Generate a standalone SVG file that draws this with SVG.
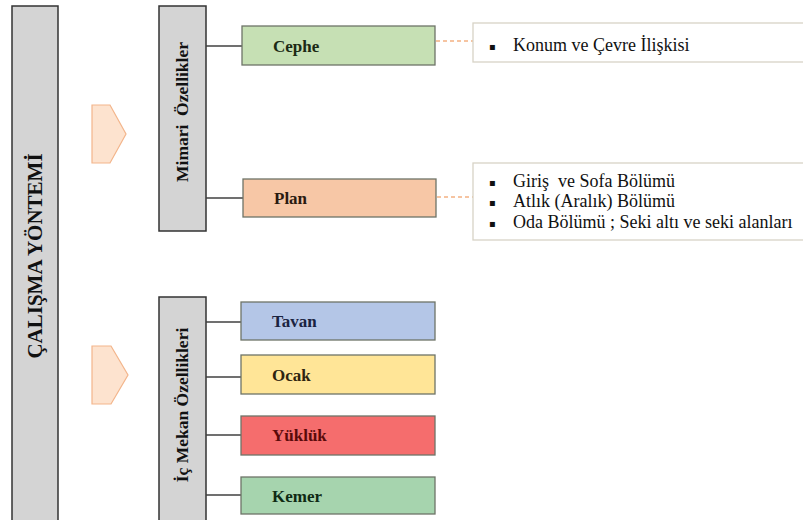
<svg xmlns="http://www.w3.org/2000/svg" width="803" height="520" viewBox="0 0 803 520" font-family="'Liberation Serif', 'DejaVu Serif', serif">
<style>
.gray{fill:#d4d4d4;stroke:#333;stroke-width:1.5}
.vt{font-weight:bold;fill:#111;text-anchor:middle}
.chev{fill:#fde3cf;stroke:#f3b58b;stroke-width:1.2}
.box{stroke:#6e7468;stroke-width:1.3}
.lbl{font-weight:bold;font-size:17px}
.note{fill:#fff;stroke:#d8d3c6;stroke-width:1.3}
.nt{font-size:18px;fill:#111}
.bl{font-size:10px;fill:#111}
.ln{stroke:#404040;stroke-width:1.5;fill:none}
.dash{stroke:#f4b183;stroke-width:1.3;stroke-dasharray:4 3;fill:none}
</style>
<rect width="803" height="520" fill="#fff"/>
<g id="calisma">
<rect class="gray" x="12" y="6" width="46" height="525"/>
<text class="vt" font-family="Liberation Serif, serif" font-size="21" transform="translate(42,256) rotate(-90)">ÇALIŞMA YÖNTEMİ</text>
</g>
<g id="chevron1"><polygon class="chev" points="92,105 110,105 126,134 110,163 92,163"/></g>
<g id="chevron2"><polygon class="chev" points="92,346 111,346 128,375 111,404 92,404"/></g>
<g id="mimari">
<rect class="gray" x="159" y="6" width="47" height="225"/>
<text class="vt" font-family="Liberation Serif, serif" font-size="17.5" transform="translate(188,112) rotate(-90)" xml:space="preserve">Mimari  Özellikler</text>
</g>
<g id="icmekan">
<rect class="gray" x="159" y="297" width="47" height="240"/>
<text class="vt" font-family="Liberation Serif, serif" font-size="17.5" transform="translate(188,405) rotate(-90)">İç Mekan Özellikleri</text>
</g>
<g id="connectors">
<line class="ln" x1="206" y1="46" x2="242" y2="46"/>
<line class="ln" x1="206" y1="198" x2="243" y2="198"/>
<line class="ln" x1="206" y1="322" x2="241" y2="322"/>
<line class="ln" x1="206" y1="377" x2="241" y2="377"/>
<line class="ln" x1="206" y1="435" x2="241" y2="435"/>
<line class="ln" x1="206" y1="495" x2="241" y2="495"/>
<line class="dash" x1="436" y1="41" x2="473" y2="41"/>
<line class="dash" x1="437" y1="197" x2="473" y2="197"/>
</g>
<g id="cephe">
<rect class="box" x="242" y="26" width="193" height="39" fill="#c6e0b4"/>
<text class="lbl" font-family="Liberation Serif, serif" x="273" y="52" fill="#1c2a14">Cephe</text>
</g>
<g id="plan">
<rect class="box" x="243" y="179" width="193" height="38" fill="#f7c7a6"/>
<text class="lbl" font-family="Liberation Serif, serif" x="274" y="204" fill="#2a1a10">Plan</text>
</g>
<g id="tavan">
<rect class="box" x="241" y="302" width="194" height="38" fill="#b4c6e7"/>
<text class="lbl" font-family="Liberation Serif, serif" x="272" y="327" fill="#1a2340">Tavan</text>
</g>
<g id="ocak">
<rect class="box" x="241" y="355" width="194" height="39" fill="#ffe597"/>
<text class="lbl" font-family="Liberation Serif, serif" x="272" y="381" fill="#2e2410">Ocak</text>
</g>
<g id="yukluk">
<rect class="box" x="241" y="416" width="194" height="39" fill="#f56d6d"/>
<text class="lbl" font-family="Liberation Serif, serif" x="272" y="441" fill="#5a0a0a">Yüklük</text>
</g>
<g id="kemer">
<rect class="box" x="241" y="477" width="194" height="37" fill="#a6d4ae"/>
<text class="lbl" font-family="Liberation Serif, serif" x="272" y="502" fill="#0f2a14">Kemer</text>
</g>
<g id="note1">
<rect class="note" x="473" y="23" width="340" height="39"/>
<text class="bl" font-family="DejaVu Sans, sans-serif" x="489" y="50">▪</text>
<text class="nt" font-family="Liberation Serif, serif" x="513" y="51">Konum ve Çevre İlişkisi</text>
</g>
<g id="note2">
<rect class="note" x="473" y="163" width="340" height="77"/>
<text class="bl" font-family="DejaVu Sans, sans-serif" x="489" y="186">▪</text>
<text class="nt" font-family="Liberation Serif, serif" x="513" y="187" xml:space="preserve">Giriş  ve Sofa Bölümü</text>
<text class="bl" font-family="DejaVu Sans, sans-serif" x="489" y="206">▪</text>
<text class="nt" font-family="Liberation Serif, serif" x="513" y="207">Atlık (Aralık) Bölümü</text>
<text class="bl" font-family="DejaVu Sans, sans-serif" x="489" y="227">▪</text>
<text class="nt" font-family="Liberation Serif, serif" x="513" y="228">Oda Bölümü ; Seki altı ve seki alanları</text>
</g>
</svg>
